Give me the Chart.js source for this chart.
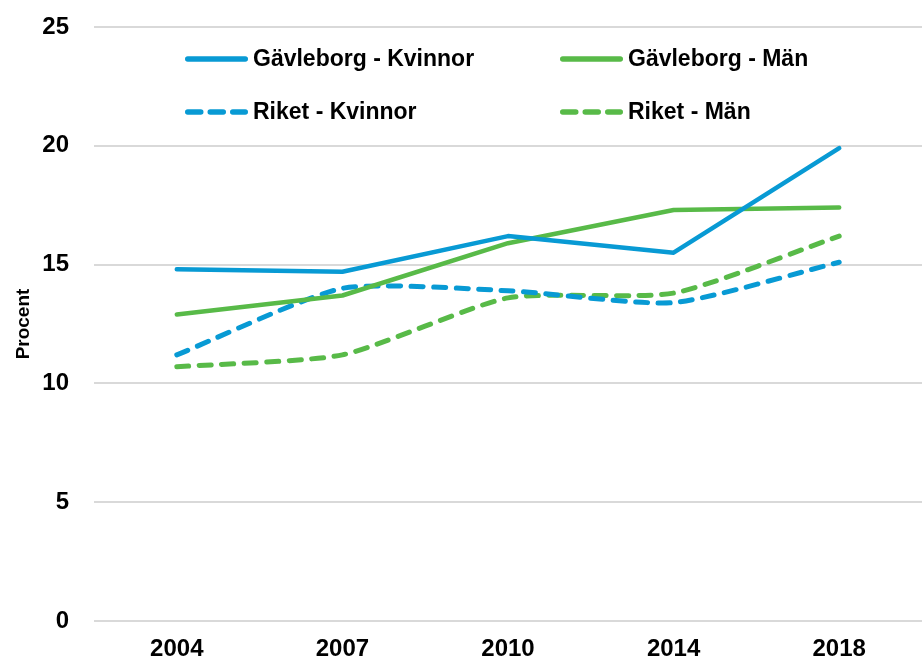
<!DOCTYPE html>
<html>
<head>
<meta charset="utf-8">
<script src="https://cdn.jsdelivr.net/npm/chart.js@4.4.1/dist/chart.umd.min.js"></script>
<style>
  html, body { margin: 0; padding: 0; background: #ffffff; }
  #wrap { width: 922px; height: 664px; position: relative; }
</style>
</head>
<body>
<div id="wrap"><canvas id="c" width="922" height="664"></canvas></div>
<script>
// ---- Data ----
const years = ["2004", "2007", "2010", "2014", "2018"];
const seriesNames = ["Gävleborg - Kvinnor", "Gävleborg - Män", "Riket - Kvinnor", "Riket - Män"];
const gavleborgKvinnor = [14.8, 14.7, 16.2, 15.5, 19.9];
const gavleborgMan = [12.9, 13.7, 15.9, 17.3, 17.4];
const riketKvinnor = [11.2, 14.0, 13.9, 13.4, 15.1];
const riketMan = [10.7, 11.2, 13.6, 13.8, 16.2];
const yTicks = [0, 5, 10, 15, 20, 25];
const yTitle = "Procent";

// ---- Styles ----
const BLUE = "rgb(8,154,212)";
const GREEN = "rgb(88,186,72)";
const FONT = "'Liberation Sans', Arial, sans-serif";

const lineStyle = (color, dashed) => ({
  borderColor: color,
  backgroundColor: color,
  borderWidth: dashed ? 5 : 4.5,
  borderDash: dashed ? [12, 10.5] : [],
  borderCapStyle: "round",
  borderJoinStyle: "round",
  pointRadius: 0,
  pointHoverRadius: 0,
  tension: dashed ? 0.2 : 0,
  fill: false
});

const datasets = [
  Object.assign({ label: seriesNames[0], data: gavleborgKvinnor }, lineStyle(BLUE, false)),
  Object.assign({ label: seriesNames[1], data: gavleborgMan }, lineStyle(GREEN, false)),
  Object.assign({ label: seriesNames[2], data: riketKvinnor }, lineStyle(BLUE, true)),
  Object.assign({ label: seriesNames[3], data: riketMan }, lineStyle(GREEN, true))
];

// Custom 2x2 legend drawn inside the plot
const legendGrid = {
  id: "legendGrid",
  afterDraw(chart) {
    const ctx = chart.ctx;
    const cols = [185, 560];
    const rows = [59, 112];
    const lineLen = 63;
    ctx.save();
    ctx.font = "bold 23px " + FONT;
    ctx.textBaseline = "middle";
    ctx.textAlign = "left";
    chart.data.datasets.forEach((ds, i) => {
      const x = cols[i % 2];
      const y = rows[Math.floor(i / 2)];
      ctx.strokeStyle = ds.borderColor;
      ctx.lineWidth = 5.5;
      ctx.lineCap = "round";
      if (ds.borderDash && ds.borderDash.length) {
        ctx.setLineDash([13, 9.5]);
      } else {
        ctx.setLineDash([]);
      }
      ctx.beginPath();
      ctx.moveTo(x + 2.75, y);
      ctx.lineTo(x + lineLen - 2.75, y);
      ctx.stroke();
      ctx.setLineDash([]);
      ctx.fillStyle = "#000000";
      ctx.fillText(ds.label, x + lineLen + 5, y + 1);
    });
    ctx.restore();
  }
};

new Chart(document.getElementById("c"), {
  type: "line",
  data: { labels: years, datasets: datasets },
  plugins: [legendGrid],
  options: {
    responsive: false,
    animation: false,
    devicePixelRatio: 1,
    layout: { padding: { top: 27, right: 0, bottom: 0, left: 0 } },
    plugins: {
      legend: { display: false },
      tooltip: { enabled: false },
      title: { display: false }
    },
    scales: {
      x: {
        type: "category",
        offset: true,
        grid: { display: false, drawTicks: false },
        border: { display: false },
        ticks: {
          color: "#000000",
          font: { family: FONT, size: 24, weight: "bold" },
          padding: 14,
          maxRotation: 0
        },
        afterFit(scale) { scale.height = 43; scale.paddingLeft = 0; scale.paddingRight = 0; }
      },
      y: {
        min: 0,
        max: 25,
        afterBuildTicks(scale) { scale.ticks = yTicks.map(v => ({ value: v })); },
        grid: { color: "#d9d9d9", lineWidth: 2, drawTicks: false },
        border: { display: false },
        ticks: {
          color: "#000000",
          font: { family: FONT, size: 24, weight: "bold" },
          padding: 25
        },
        title: {
          display: true,
          text: yTitle,
          color: "#000000",
          font: { family: FONT, size: 19, weight: "bold" },
          padding: { top: 12, bottom: 0 }
        },
        afterFit(scale) { scale.width = 94; scale.paddingTop = 0; scale.paddingBottom = 0; }
      }
    }
  }
});
</script>
</body>
</html>
